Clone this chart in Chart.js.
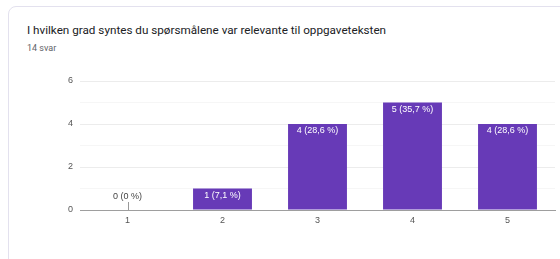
<!DOCTYPE html>
<html>
<head>
<meta charset="utf-8">
<script src="https://cdn.jsdelivr.net/npm/chart.js@4.4.1/dist/chart.umd.min.js"></script>
<style>
	html, body { margin: 0; padding: 0; background: #fff; width: 560px; height: 259px; overflow: hidden; }
	.card {
		position: absolute; left: 8px; top: 6px; width: 600px; height: 300px;
		border: 1px solid #e3e1ee; border-radius: 8px; box-sizing: border-box;
	}
	.title {
		position: absolute; left: 27px; top: 23px;
		font: 11.7px Roboto, Arial, sans-serif; color: #202124; white-space: nowrap;
	}
	.count {
		position: absolute; left: 27px; top: 43px;
		font: 9px Roboto, Arial, sans-serif; color: #5f6368;
	}
	#wrap { position: absolute; left: 0; top: 0; width: 560px; height: 259px; }
</style>
</head>
<body>
<div class="card"></div>
<div class="title">I hvilken grad syntes du spørsmålene var relevante til oppgaveteksten</div>
<div class="count">14 svar</div>
<div id="wrap"><canvas id="chart"></canvas></div>

<script>
// Data
const categories = ['1', '2', '3', '4', '5'];
const counts = [0, 1, 4, 5, 4];
const percents = ['0', '7,1', '28,6', '35,7', '28,6'];
const yTicks = [0, 2, 4, 6];

const purple = '#673ab7';

// Etiketter over/inni søylene
const barLabels = {
	id: 'barLabels',
	afterDatasetsDraw(chart) {
		const ctx = chart.ctx;
		const meta = chart.getDatasetMeta(0);
		const yScale = chart.scales.y;
		ctx.save();
		ctx.font = '9px Arial, "Liberation Sans", sans-serif';
		ctx.textAlign = 'center';
		ctx.textBaseline = 'middle';
		meta.data.forEach((bar, i) => {
			const text = `${counts[i]} (${percents[i]} %)`;
			if (counts[i] === 0) {
				const base = yScale.getPixelForValue(0);
				ctx.strokeStyle = '#999';
				ctx.lineWidth = 1;
				ctx.beginPath();
				ctx.moveTo(Math.round(bar.x) + 0.5, base - 8);
				ctx.lineTo(Math.round(bar.x) + 0.5, base);
				ctx.stroke();
				ctx.fillStyle = '#444';
				ctx.fillText(text, bar.x, base - 13);
			} else {
				ctx.fillStyle = '#fff';
				ctx.fillText(text, bar.x, bar.y + 7);
			}
		});
		ctx.restore();
	}
};

new Chart(document.getElementById('chart'), {
	type: 'bar',
	data: {
		labels: categories,
		datasets: [{
			data: counts,
			backgroundColor: purple,
			borderWidth: 0,
			barPercentage: 0.62,
			categoryPercentage: 1
		}]
	},
	options: {
		responsive: true,
		maintainAspectRatio: false,
		animation: false,
		layout: { padding: { left: 58, right: 5, top: 81, bottom: 29 } },
		plugins: { legend: { display: false }, tooltip: { enabled: false } },
		scales: {
			x: {
				afterFit: (scale) => { scale.height = 20; },
				grid: { display: false, drawTicks: false },
				border: { color: '#9e9e9e', width: 1 },
				ticks: { color: '#555', font: { size: 9, family: 'Arial, "Liberation Sans", sans-serif' }, padding: 5 }
			},
			y: {
				min: 0,
				max: 6,
				afterFit: (scale) => { scale.width = 22; },
				afterBuildTicks: (scale) => {
					const t = [];
					for (let v = 0; v <= 6; v++) t.push({ value: v });
					scale.ticks = t;
				},
				grid: {
					drawTicks: false,
					color: (c) => yTicks.includes(c.tick.value) ? '#ececec' : '#f6f6f6'
				},
				border: { display: false },
				ticks: {
					color: '#555',
					padding: 7,
					font: { size: 9, family: 'Arial, "Liberation Sans", sans-serif' },
					callback: (v) => yTicks.includes(v) ? v : ''
				}
			}
		}
	},
	plugins: [barLabels]
});
</script>
</body>
</html>
